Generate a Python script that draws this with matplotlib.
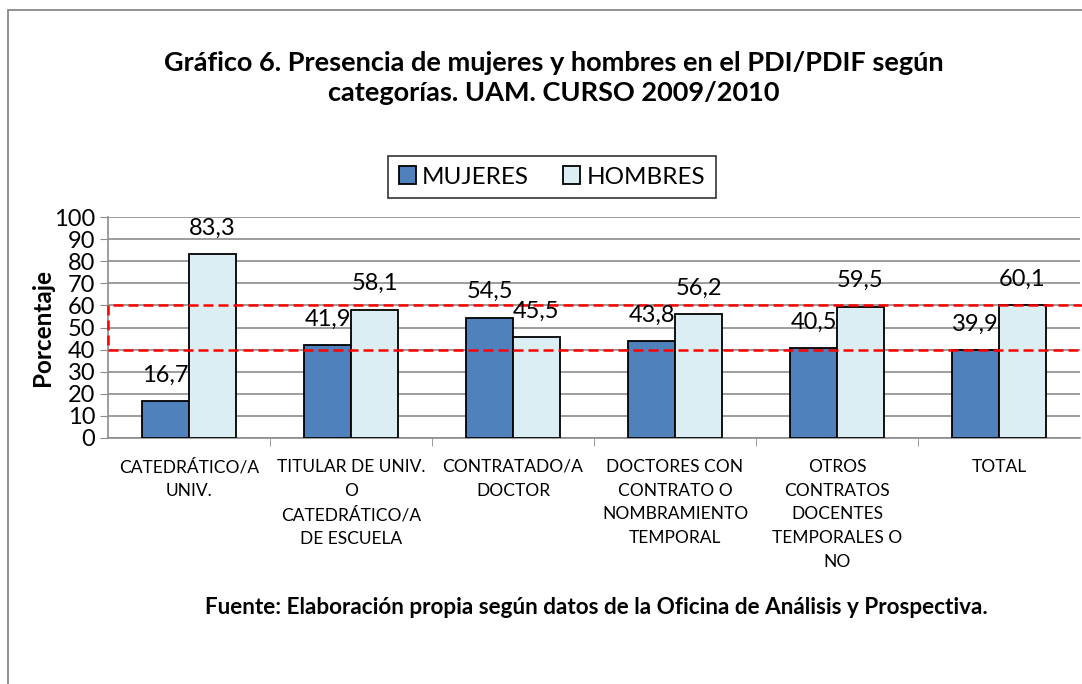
import matplotlib.pyplot as plt
import numpy as np
from matplotlib.patches import Rectangle

categories = [
    "CATEDRÁTICO/A\nUNIV.",
    "TITULAR DE UNIV.\nO\nCATEDRÁTICO/A\nDE ESCUELA",
    "CONTRATADO/A\nDOCTOR",
    "DOCTORES CON\nCONTRATO O\nNOMBRAMIENTO\nTEMPORAL",
    "OTROS\nCONTRATOS\nDOCENTES\nTEMPORALES O\nNO",
    "TOTAL",
]
mujeres = [16.7, 41.9, 54.5, 43.8, 40.5, 39.9]
hombres = [83.3, 58.1, 45.5, 56.2, 59.5, 60.1]
band_low, band_high = 39.9, 60.1

plt.rcParams["font.family"] = ["Lato", "DejaVu Sans"]

fig = plt.figure(figsize=(10.82, 6.84), dpi=100)
# outer chart frame
fig.patches.append(
    Rectangle((8 / 1082, -0.01), 1.1, 1 - 10 / 684 + 0.01, transform=fig.transFigure,
              fill=False, edgecolor="#7f7f7f", linewidth=1.2)
)

ax = fig.add_axes([108 / 1082, 1 - 438 / 684, (1080 - 108) / 1082, (438 - 217) / 684])

x = np.arange(len(categories))
w = 0.29
b1 = ax.bar(x - w / 2, mujeres, w, color="#4F81BD", edgecolor="black", linewidth=1.3,
            label="MUJERES", zorder=3)
b2 = ax.bar(x + w / 2, hombres, w, color="#DAEEF3", edgecolor="black", linewidth=1.3,
            label="HOMBRES", zorder=3)

for rects, vals in ((b1, mujeres), (b2, hombres)):
    for r, v in zip(rects, vals):
        ax.annotate(f"{v:.1f}".replace(".", ","), (r.get_x() + r.get_width() / 2, v),
                    xytext=(0, 11), textcoords="offset points", ha="center", va="bottom",
                    fontsize=17, zorder=5)

# dashed band between total values
ax.add_patch(Rectangle((-0.5, band_low), 6.2, band_high - band_low, fill=False,
                       edgecolor="red", linestyle=(0, (4, 2)), linewidth=1.8,
                       zorder=4, clip_on=False))

ax.set_xlim(-0.5, 5.5)
ax.set_ylim(0, 100)
ax.set_yticks(range(0, 101, 10))
ax.tick_params(axis="y", labelsize=17, length=6, color="#8c8c8c", pad=3)
ax.set_xticks(x)
ax.set_xticklabels(categories, fontsize=12.5, linespacing=1.6, va="top")
ax.tick_params(axis="x", length=0, pad=15)
ax.set_xticks(np.arange(0.5, 5.5, 1), minor=True)
ax.tick_params(axis="x", which="minor", length=6, color="#8c8c8c")
ax.grid(axis="y", color="#8c8c8c", linewidth=1.2, zorder=0)
ax.set_axisbelow(True)
for s in ("top", "right"):
    ax.spines[s].set_visible(False)
for s in ("left", "bottom"):
    ax.spines[s].set_color("#8c8c8c")
    ax.spines[s].set_linewidth(1.2)

ax.set_ylabel("Porcentaje", fontsize=17.5, fontweight="bold", labelpad=0)

fig.text(0.512, 1 - 78 / 684,
         "Gráfico 6. Presencia de mujeres y hombres en el PDI/PDIF según\ncategorías. UAM. CURSO 2009/2010",
         ha="center", va="center", fontsize=19.5, fontweight="bold", linespacing=1.3)

leg = fig.legend(handles=[b1, b2], loc="center", bbox_to_anchor=(552 / 1082, 1 - 177 / 684),
                 ncol=2, fontsize=17.5, frameon=True, fancybox=False, edgecolor="black",
                 handlelength=0.7, handleheight=0.7, handletextpad=0.25,
                 columnspacing=1.4, borderpad=0.45)
leg.get_frame().set_linewidth(1.2)

fig.text(596 / 1082, 1 - 607 / 684,
         "Fuente: Elaboración propia según datos de la Oficina de Análisis y Prospectiva.",
         ha="center", va="center", fontsize=16.2, fontweight="bold")

fig.savefig("out.png", dpi=100)
